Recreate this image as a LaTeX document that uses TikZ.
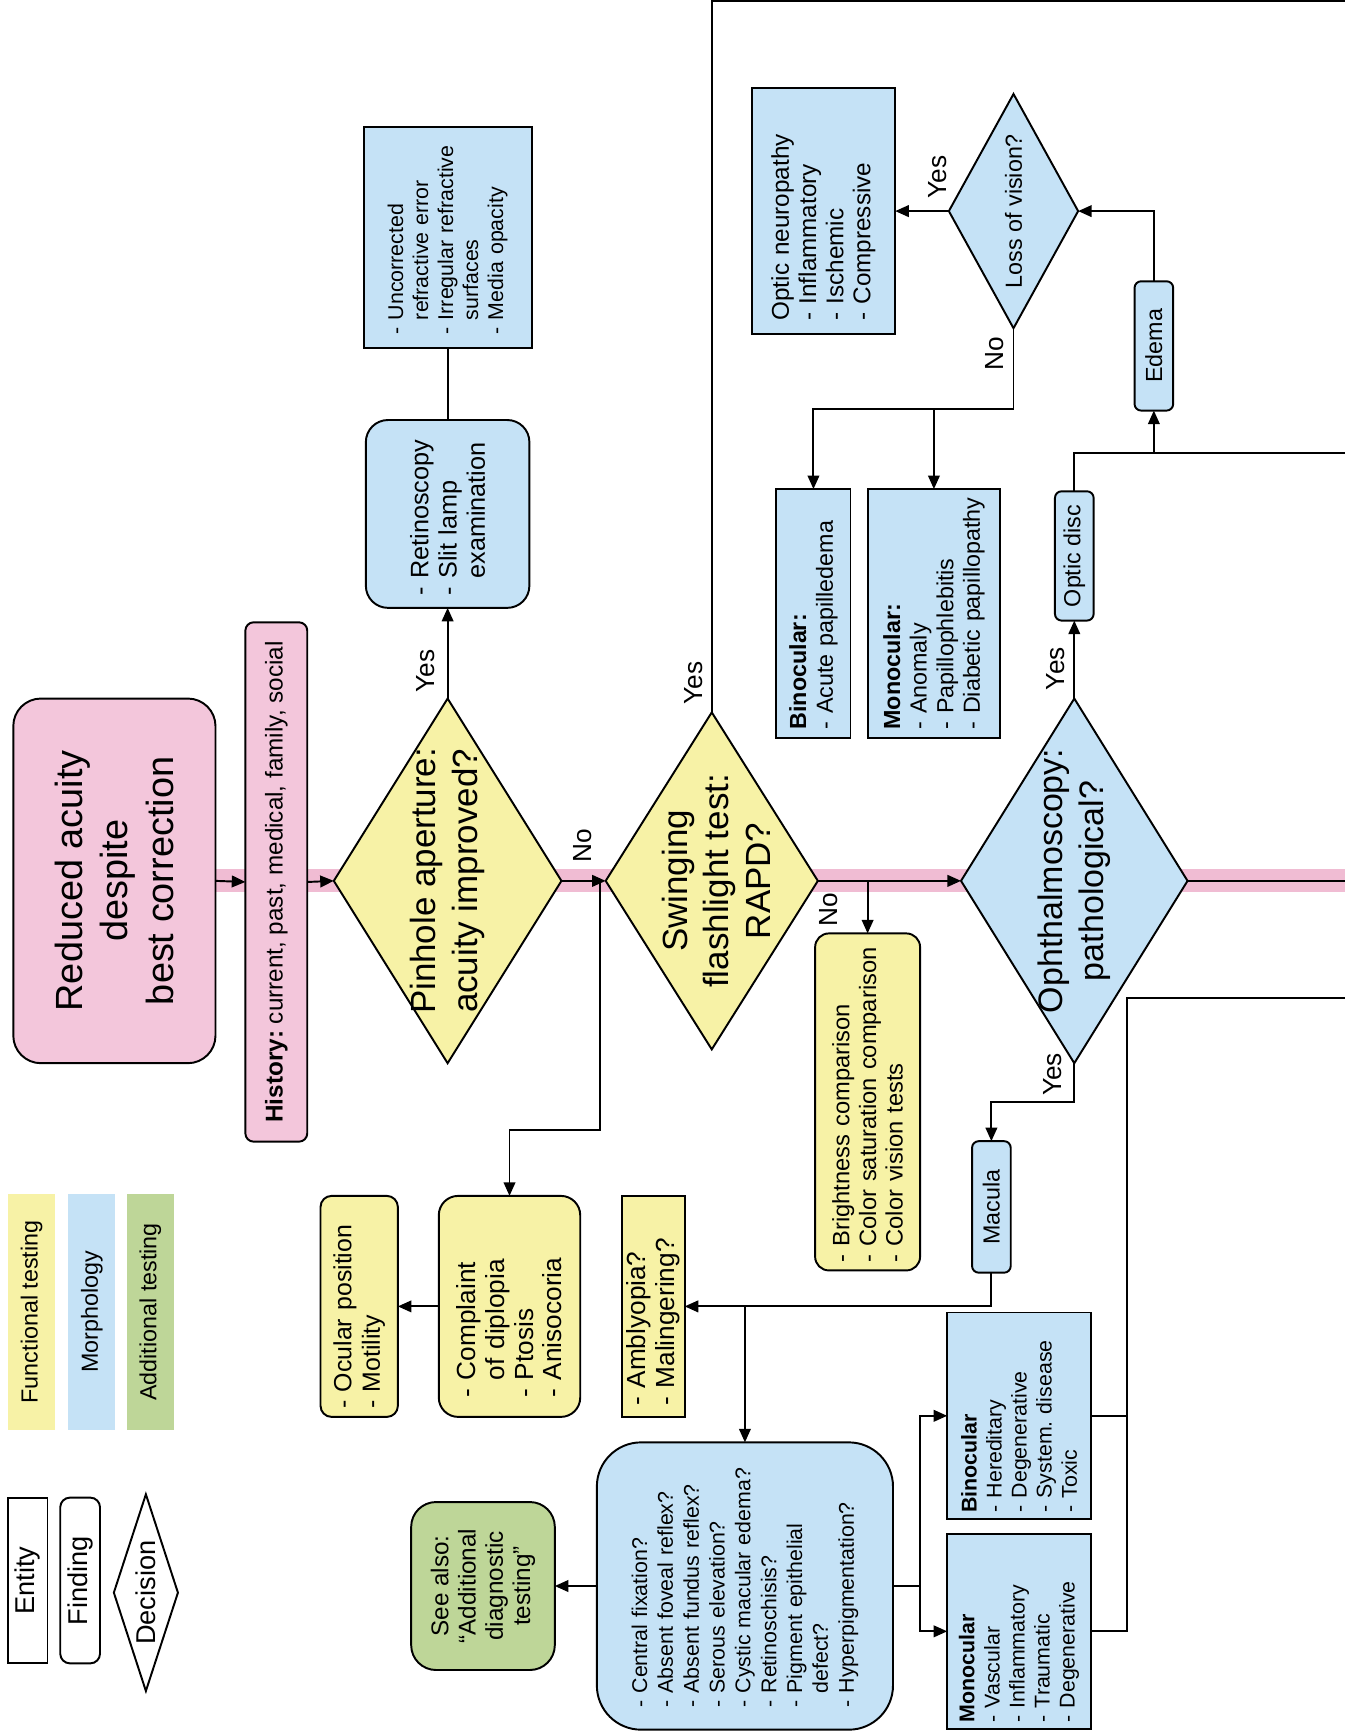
\documentclass[tikz,border=0pt]{standalone}
\usepackage{fontspec}
\setmainfont{Liberation Sans}
\usetikzlibrary{shapes.geometric, arrows.meta, backgrounds}
\frenchspacing

\definecolor{rosefill}{RGB}{243,198,219}
\definecolor{bandpink}{RGB}{240,188,211}
\definecolor{lemonfill}{RGB}{247,242,166}
\definecolor{skyfill}{RGB}{197,226,246}
\definecolor{sagefill}{RGB}{190,214,152}

\tikzset{
  entity/.style={draw, rotate=90, inner sep=0pt, outer sep=0pt, align=left},
  finding/.style={entity, rounded corners=#1},
  finding/.default=5pt,
  decision/.style={draw, diamond, rotate=90, inner sep=0pt, outer sep=0pt},
  sz/.style n args={3}{minimum width=#1cm, minimum height=#2cm, text width=#3cm},
  dtext/.style={rotate=90, align=center, font=\fontsize{18}{21.5}\selectfont},
  yn/.style={rotate=90, inner sep=0pt, font=\fontsize{13.5}{15}\selectfont},
  swatch/.style={rotate=90, minimum width=4.26cm, minimum height=0.86cm, t12},
  t11/.style={font=\fontsize{11}{12.9}\selectfont},
  t12/.style={font=\fontsize{12}{13.7}\selectfont},
  t135/.style={font=\fontsize{13.5}{14.8}\selectfont},
  band/.style={line width=0.42cm, bandpink},
}

\begin{document}
\begin{tikzpicture}[x=0.02cm, y=-0.02cm, line width=1pt, >={Triangle[length=7pt,width=6pt]}]
\useasboundingbox (0,0) rectangle (1217,1568);
\coordinate (topR) at (1217,1);
\coordinate (discR) at (1217,410);
\coordinate (mainR) at (1217,797);
\coordinate (lowR) at (1217,903);
\coordinate (j1) at (543,797);
\coordinate (k1) at (543,1022);
\coordinate (k2) at (917,370);
\coordinate (k4) at (1020,903);

\node[swatch, fill=lemonfill] (legfun) at (28.5,1187) {Functional testing};
\node[swatch, fill=skyfill] (legmor) at (83,1187) {Morphology};
\node[swatch, fill=sagefill] (legadd) at (136,1187) {Additional testing};
\node[entity, fill=white, minimum width=3cm, minimum height=0.72cm, font=\fontsize{14}{16}\selectfont] (legent) at (25,1430) {Entity};
\node[finding, fill=white, minimum width=3cm, minimum height=0.72cm, font=\fontsize{14}{16}\selectfont] (legfin) at (72.5,1430) {Finding};
\node[decision, fill=white, minimum width=3.56cm, minimum height=1.16cm] (legdec) at (132,1441) {};
\node[rotate=90, font=\fontsize{14}{16}\selectfont] (legdectext) at (legdec) {Decision};

\node[finding=0.5cm, fill=rosefill, align=center, minimum width=6.6cm, minimum height=3.66cm,
  font=\fontsize{19.5}{23.6}\selectfont] (title) at (103.5,797) {Reduced acuity\\despite\\best correction};
\node[finding=0.15cm, fill=rosefill, align=center, minimum width=9.4cm, minimum height=1.12cm,
  font=\fontsize{12.5}{14}\selectfont] (hist) at (250,798) {\textbf{History:} current, past, medical, family, social};

\node[decision, fill=lemonfill, minimum width=6.6cm, minimum height=4.12cm] (pin) at (405,797) {};
\node[dtext] (pintext) at (pin) {Pinhole aperture:\\acuity improved?};
\node[finding=0.4cm, fill=skyfill, sz={3.4}{2.96}{2.95}, font=\fontsize{13}{14.6}\selectfont] (retino) at (405,465)
  {- Retinoscopy\\- Slit lamp\\\hphantom{- }examination};
\node[entity, fill=skyfill, sz={4.0}{3.04}{3.5}, t11] (uncorr) at (405,215)
  {- Uncorrected\\\hphantom{- }refractive error\\- Irregular refractive\\\hphantom{- }surfaces\\- Media opacity};
\node[finding=0.35cm, fill=lemonfill, sz={4.0}{2.56}{3.3}, t135] (comp) at (461,1182)
  {- Complaint\\\hphantom{- }of diplopia\\- Ptosis\\- Anisocoria};
\node[finding=0.2cm, fill=lemonfill, sz={4.0}{1.4}{3.7}, font=\fontsize{12.8}{14.6}\selectfont] (ocular) at (325,1182)
  {- Ocular position\\- Motility};

\node[decision, fill=lemonfill, minimum width=6.1cm, minimum height=3.84cm] (swing) at (644,797) {};
\node[dtext] (swingtext) at (648,797) {Swinging\\flashlight test:\\RAPD?};
\node[finding=0.25cm, fill=lemonfill, sz={6.1}{1.9}{5.8}, font=\fontsize{12.2}{13.7}\selectfont] (bright) at (785,997)
  {- Brightness comparison\\- Color saturation comparison\\- Color vision tests};
\node[entity, fill=lemonfill, sz={4.0}{1.14}{3.6}, t135] (amb) at (591,1182)
  {- Amblyopia?\\- Malingering?};

\node[decision, fill=skyfill, minimum width=6.6cm, minimum height=4.1cm] (oph) at (972,797) {};
\node[dtext, font=\fontsize{17.5}{21}\selectfont] (ophtext) at (oph) {Ophthalmoscopy:\\pathological?};
\node[finding=0.12cm, fill=skyfill, align=center, minimum width=2.34cm, minimum height=0.7cm, t12] (disc) at (972,503) {Optic disc};
\node[finding=0.12cm, fill=skyfill, align=center, minimum width=2.34cm, minimum height=0.7cm, t12] (edema) at (1044,313) {Edema};
\node[decision, fill=skyfill, minimum width=4.24cm, minimum height=2.34cm] (loss) at (917,191) {};
\node[rotate=90, t12] (losstext) at (loss) {Loss of vision?};
\node[entity, fill=skyfill, sz={4.44}{2.6}{3.96}, font=\fontsize{12.5}{14}\selectfont] (neuro) at (745,191)
  {Optic neuropathy\\- Inflammatory\\- Ischemic\\- Compressive};
\node[entity, fill=skyfill, sz={4.5}{1.34}{4.2}, t12] (bin1) at (736,555)
  {\textbf{Binocular:}\\- Acute papilledema};
\node[entity, fill=skyfill, sz={4.5}{2.4}{4.2}, t12] (mon1) at (845,555)
  {\textbf{Monocular:}\\- Anomaly\\- Papillophlebitis\\- Diabetic papillopathy};

\node[finding=0.12cm, fill=skyfill, align=center, minimum width=2.38cm, minimum height=0.7cm, t12] (mac) at (897,1092) {Macula};
\node[finding=0.8cm, fill=skyfill, sz={5.2}{5.36}{4.4}, font=\fontsize{11}{13.3}\selectfont] (cen) at (674,1435)
  {- Central fixation?\\- Absent foveal reflex?\\- Absent fundus reflex?\\- Serous elevation?\\- Cystic macular edema?\\- Retinoschisis?\\- Pigment epithelial\\\hphantom{- }defect?\\- Hyperpigmentation?};
\node[finding=0.45cm, fill=sagefill, align=center, minimum width=3.04cm, minimum height=2.6cm,
  font=\fontsize{12.5}{14}\selectfont] (see) at (437,1435) {See also:\\“Additional\\diagnostic\\testing”};
\node[entity, fill=skyfill, sz={3.74}{2.6}{3.5}, t11] (bin2) at (922,1281)
  {\textbf{Binocular}\\- Hereditary\\- Degenerative\\- System. disease\\- Toxic};
\node[entity, fill=skyfill, sz={3.54}{2.6}{3.3}, t11] (mon2) at (922,1476)
  {\textbf{Monocular}\\- Vascular\\- Inflammatory\\- Traumatic\\- Degenerative};

\node[yn] (yes1) at (385,607) {Yes};
\node[yn] (no1) at (527,765) {No};
\node[yn] (yes2) at (628,618) {Yes};
\node[yn] (no2) at (750,823) {No};
\node[yn] (yes3) at (955,605) {Yes};
\node[yn] (yes4) at (952,972) {Yes};
\node[yn] (yes5) at (848,160) {Yes};
\node[yn] (no3) at (900,320) {No};

\begin{scope}[on background layer]
\draw[band] (title.south) -- (mainR);
\end{scope}

\draw[->] (title.south) -- (hist.north);
\draw[->] (hist.south) -- (pin.north);
\draw[->] (pin.south) -- (swing.north);
\draw[->] (swing.south) -- (oph.north);
\draw (oph.south) -- (mainR);
\draw[->] (pin.east) -- (retino.west);
\draw (retino.east) -- (uncorr.west);
\draw[->] (j1) -- (k1) -| (comp.east);
\draw[->] (comp.north) -- (ocular.south);
\draw (swing.east) |- (topR);
\draw[->] (bright.east |- swing.south) -- (bright.east);
\draw[->] (oph.east) -- (disc.west);
\draw (disc.east) |- (discR);
\draw[->] (edema.west |- discR) -- (edema.west);
\draw[->] (edema.east) |- (loss.south);
\draw[->] (loss.north) -- (neuro.south);
\draw[->] (loss.west) -- (k2) -| (bin1.east);
\draw[->] (mon1.east |- k2) -- (mon1.east);
\draw[->] (oph.west) -- ++(0,35) -| (mac.east);
\draw[->] (mac.west) |- (amb.south);
\draw[->] (cen.east |- amb.south) -- (cen.east);
\draw[->] (cen.north) -- (see.south);
\draw (cen.south) -- ++(24,0) coordinate (k3);
\draw[->] (k3) |- (bin2.north);
\draw[->] (k3) |- (mon2.north);
\draw (mon2.south) -| (k4) -- (lowR);
\draw (bin2.south) -- (bin2.south -| k4);
\end{tikzpicture}
\end{document}
